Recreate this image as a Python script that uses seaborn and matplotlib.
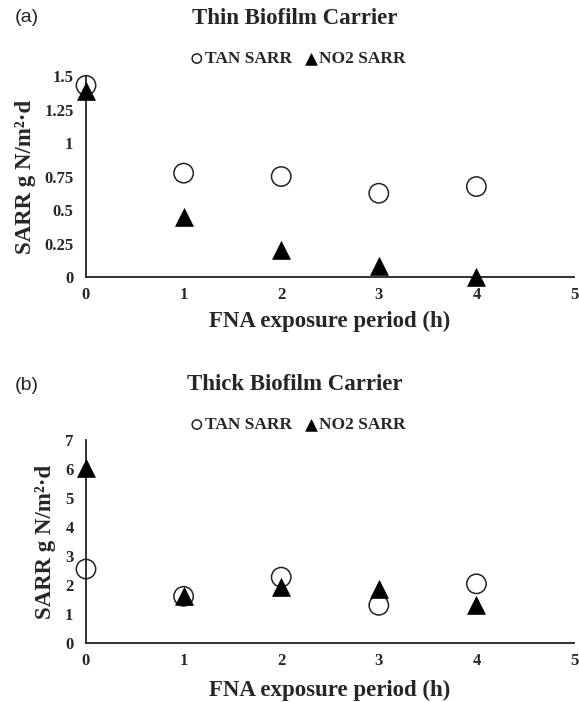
#%% SARR vs FNA exposure period - thin and thick biofilm carriers

import pandas as pd
import matplotlib.pyplot as plt
import seaborn as sns

#%% Data

hours = [0, 1, 2, 3, 4]

thin_tan = [1.43, 0.775, 0.75, 0.625, 0.675]
thin_no2 = [1.39, 0.45, 0.20, 0.085, 0.0]

thick_tan = [2.55, 1.61, 2.27, 1.30, 2.04]
thick_no2 = [6.03, 1.62, 1.93, 1.86, 1.32]

panels = [
    ('(a)', 'Thin Biofilm Carrier', thin_tan, thin_no2, 1.5, [0, 0.25, 0.5, 0.75, 1, 1.25, 1.5]),
    ('(b)', 'Thick Biofilm Carrier', thick_tan, thick_no2, 7, [0, 1, 2, 3, 4, 5, 6, 7]),
]

#%% Figure

sns.set_style('white')
plt.rcParams['font.family'] = ['Liberation Serif', 'DejaVu Serif']

W, H = 579, 702
fig = plt.figure(figsize=(W / 100, H / 100), dpi=100)

# axes boxes in pixels: left, right, top, bottom
px_boxes = [(86, 574, 76, 277), (86, 574, 440, 643)]
title_y = [18, 385]
legend_y = [59, 425]
ylabel_x = [26, 46]
xlabel_y = [321, 690]

for i, (tag, title, tan, no2, ymax, yticks) in enumerate(panels):
    l, r, t, b = px_boxes[i]
    ax = fig.add_axes([l / W, 1 - b / H, (r - l) / W, (b - t) / H])
    df = pd.DataFrame({'h': hours, 'TAN SARR': tan, 'NO2 SARR': no2})

    sns.scatterplot(data=df, x='h', y='TAN SARR', marker='o', s=195,
                    facecolor='none', edgecolor='#222222', linewidth=1.1,
                    clip_on=False, zorder=3, ax=ax, label='TAN SARR')
    sns.scatterplot(data=df, x='h', y='NO2 SARR', marker='^', s=165,
                    color='black', edgecolor='black', linewidth=0.5,
                    clip_on=False, zorder=4, ax=ax, label='NO2 SARR')

    ax.set_xlim(0, 5)
    ax.set_ylim(0, ymax)
    ax.set_xticks(range(6))
    ax.set_yticks(yticks)
    ax.set_yticklabels([f'{v:g}' for v in yticks])
    ax.tick_params(axis='x', length=0, labelsize=12, pad=7)
    ax.tick_params(axis='y', length=0, labelsize=12, pad=9)
    for lab in ax.get_xticklabels() + ax.get_yticklabels():
        lab.set_fontweight('bold')

    sns.despine(ax=ax)
    for s in ['left', 'bottom']:
        ax.spines[s].set_color('#222222')
        ax.spines[s].set_linewidth(1.3)

    ax.set_xlabel('FNA exposure period (h)', fontsize=16.5, fontweight='bold', va='center')
    ax.set_ylabel('SARR g N/m²·d', fontsize=16.5, fontweight='bold', va='center')
    ax.xaxis.set_label_coords(0.5, (b - xlabel_y[i]) / (b - t))
    ax.yaxis.set_label_coords((ylabel_x[i] - l) / (r - l), 0.5)

    leg = ax.legend(loc='center', bbox_to_anchor=(298 / W, 1 - legend_y[i] / H),
                    bbox_transform=fig.transFigure, ncol=2, frameon=False,
                    handlelength=0.7, handletextpad=0.1, columnspacing=0.75,
                    prop={'weight': 'bold', 'size': 12.5})
    leg.legend_handles[0].set_sizes([45])
    leg.legend_handles[1].set_sizes([70])

    fig.text(295 / W, 1 - title_y[i] / H, title, ha='center', va='center',
             fontsize=16.5, fontweight='bold')
    fig.text(15 / W, 1 - title_y[i] / H, tag, ha='left', va='center',
             fontsize=14, family='Liberation Sans')

fig.savefig('out.png', dpi=100)
